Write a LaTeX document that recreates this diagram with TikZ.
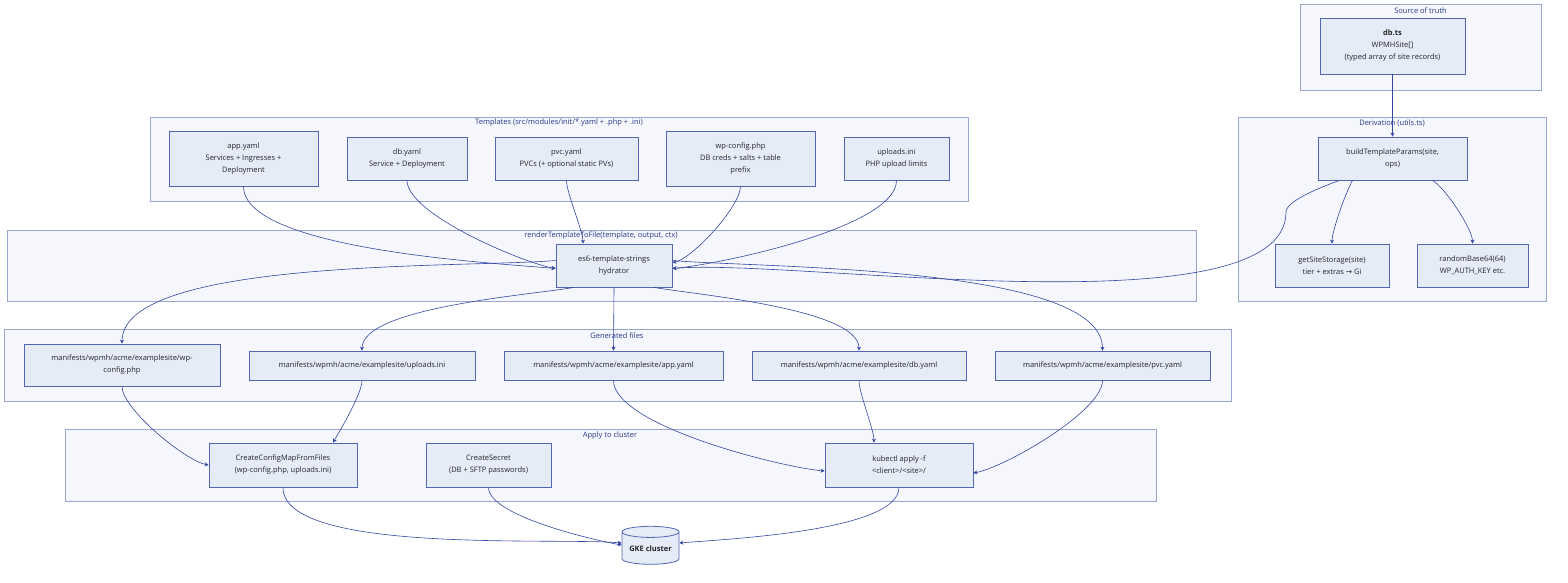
\documentclass[tikz,border=0pt]{standalone}
\usepackage{fontspec}
\setmainfont{Open Sans}
\newfontfamily\symfont{DejaVu Sans}
\usetikzlibrary{arrows.meta,shapes.geometric}
\definecolor{edgeblue}{HTML}{3346A3}
\definecolor{boxfill}{HTML}{E6EBF8}
\definecolor{boxline}{HTML}{5566B0}
\definecolor{grpfill}{HTML}{F5F7FC}
\definecolor{grpline}{HTML}{9AA5D0}
\definecolor{grptext}{HTML}{2B3A8A}
\tikzset{
  grp/.style={draw=grpline, fill=grpfill, line width=0.8pt},
  grplabel/.style={font=\fontsize{7.5}{9}\selectfont, text=grptext},
  box/.style={draw=boxline, fill=boxfill, line width=0.8pt, align=center, inner sep=1pt,
    font=\fontsize{7.5}{12}\selectfont, text=black!85},
  link/.style={draw=edgeblue, line width=0.6pt, -{Stealth[length=4pt,width=4pt]}, looseness=0.5},
}
\begin{document}
\begin{tikzpicture}[x=1pt,y=-1pt]
  \useasboundingbox (0,0) rectangle (1568,582);
  % groups
  \draw[grp] (1300,4) rectangle (1541,90);
  \node[grplabel] at (1420.5,11) {Source of truth};
  \draw[grp] (1238,117) rectangle (1546,301);
  \node[grplabel] at (1392,123) {Derivation (utils.ts)};
  \draw[grp] (150,117) rectangle (968,201);
  \node[grplabel] at (559,123) {Templates (src/modules/init/*.yaml + .php + .ini)};
  \draw[grp] (7,230) rectangle (1196,301);
  \node[grplabel] at (601,236) {renderTemplateToFile(template, output, ctx)};
  \draw[grp] (4,329) rectangle (1231,401);
  \node[grplabel] at (617,336) {Generated files};
  \draw[grp] (65,429) rectangle (1156,501);
  \node[grplabel] at (610,436) {Apply to cluster};

  % nodes
  \node[box, minimum width=145pt, minimum height=56pt] (dbts) at (1392.5,46) {\textbf{db.ts}\\WPMHSite[]\\(typed array of site records)};
  \node[box, minimum width=149pt, minimum height=43pt] (build) at (1392.5,158.5) {buildTemplateParams(site,\\ops)};
  \node[box, minimum width=114pt, minimum height=43pt] (storage) at (1332,265.5) {getSiteStorage(site)\\tier + extras {\symfont→} Gi};
  \node[box, minimum width=111pt, minimum height=43pt] (rand) at (1472.5,265.5) {randomBase64(64)\\WP\_AUTH\_KEY etc.};

  \node[box, minimum width=149pt, minimum height=55pt] (tapp) at (243.5,158.5) {app.yaml\\Services + Ingresses +\\Deployment};
  \node[box, minimum width=120pt, minimum height=43pt] (tdb) at (407,158.5) {db.yaml\\Service + Deployment};
  \node[box, minimum width=143pt, minimum height=43pt] (tpvc) at (566.5,158.5) {pvc.yaml\\PVCs (+ optional static PVs)};
  \node[box, minimum width=149pt, minimum height=55pt] (twpc) at (740.5,158.5) {wp-config.php\\DB creds + salts + table\\prefix};
  \node[box, minimum width=105pt, minimum height=43pt] (tupl) at (896.5,158.5) {uploads.ini\\PHP upload limits};

  \node[box, minimum width=116pt, minimum height=43pt] (hyd) at (614,265.5) {es6-template-strings\\hydrator};

  \node[box, minimum width=196pt, minimum height=42pt] (gwpc) at (122,365) {manifests/wpmh/acme/examplesite/wp-\\config.php};
  \node[box, minimum width=226pt, minimum height=29pt] (gupl) at (362,365.5) {manifests/wpmh/acme/examplesite/uploads.ini};
  \node[box, minimum width=219pt, minimum height=29pt] (gapp) at (613.5,365.5) {manifests/wpmh/acme/examplesite/app.yaml};
  \node[box, minimum width=214pt, minimum height=29pt] (gdb) at (859,365.5) {manifests/wpmh/acme/examplesite/db.yaml};
  \node[box, minimum width=215pt, minimum height=29pt] (gpvc) at (1102.5,365.5) {manifests/wpmh/acme/examplesite/pvc.yaml};

  \node[box, minimum width=148pt, minimum height=44pt] (cmap) at (283,465) {CreateConfigMapFromFiles\\(wp-config.php, uploads.ini)};
  \node[box, minimum width=125pt, minimum height=44pt] (secret) at (488.5,465) {CreateSecret\\(DB + SFTP passwords)};
  \node[box, minimum width=148pt, minimum height=44pt] (kube) at (899,465) {kubectl apply -f\\<client>/<site>/};

  \node[box, cylinder, shape border rotate=90, aspect=0.25, minimum width=57pt, minimum height=38pt,
    font=\fontsize{7.5}{10}\selectfont\bfseries] (gke) at (650.5,549) {GKE cluster};

  % edges
  \draw[link] (dbts) -- (build);
  \coordinate (bend) at (1286,212);
  \draw[link] ([xshift=-53pt]build.south) to[out=200,in=90] (bend) to[out=-90,in=5] ([yshift=-3pt]hyd.east);
  \draw[link] ([xshift=-40pt]build.south) to[out=-120,in=90] (storage.north);
  \draw[link] ([xshift=40pt]build.south) to[out=-30,in=90] (rand.north);

  \draw[link] (tapp.south) to[out=-90,in=175] ([yshift=-3pt]hyd.west);
  \draw[link] (tdb.south) to[out=-90,in=170] ([yshift=-3pt]hyd.west);
  \draw[link] (tpvc.south) to[out=-90,in=90] ([xshift=-31pt]hyd.north);
  \draw[link] (twpc.south) to[out=-90,in=10] ([yshift=3pt]hyd.east);
  \draw[link] (tupl.south) to[out=-90,in=5] ([yshift=-3pt]hyd.east);

  \draw[link] ([yshift=5pt]hyd.west) to[out=185,in=90] (gwpc.north);
  \draw[link] ([xshift=-40pt]hyd.south) to[out=190,in=90] (gupl.north);
  \draw[link] (hyd.south) -- (gapp.north);
  \draw[link] ([xshift=40pt]hyd.south) to[out=-10,in=90] (gdb.north);
  \draw[link] ([yshift=5pt]hyd.east) to[out=-5,in=90] (gpvc.north);

  \draw[link] (gwpc.south) to[out=-90,in=170] (cmap.west);
  \draw[link] (gupl.south) to[out=-90,in=60] ([xshift=50pt]cmap.north);
  \draw[link] (gapp.south) to[out=-90,in=175] ([yshift=-6pt]kube.west);
  \draw[link] (gdb.south) to[out=-90,in=90] ([xshift=-25pt]kube.north);
  \draw[link] (gpvc.south) to[out=-90,in=10] ([yshift=-8pt]kube.east);

  \draw[link] (cmap.south) to[out=-90,in=175] ([yshift=6pt]gke.west);
  \draw[link] (secret.south) to[out=-90,in=170] ([yshift=4pt]gke.west);
  \draw[link] (kube.south) to[out=-90,in=5] ([yshift=6pt]gke.east);
\end{tikzpicture}
\end{document}
